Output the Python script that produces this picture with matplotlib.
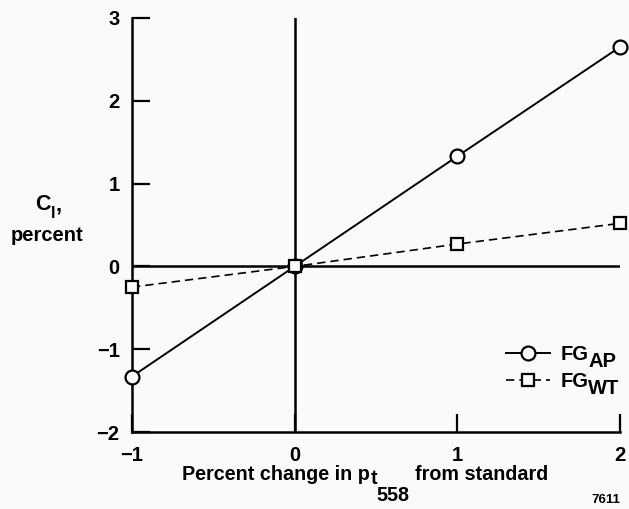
import matplotlib
matplotlib.use("Agg")
import matplotlib.pyplot as plt

pct_change = [-1, 0, 1, 2]
fg_ap = [-1.33, 0.0, 1.33, 2.65]
fg_wt = [-0.25, 0.0, 0.27, 0.52]
xticks = [-1, 0, 1, 2]
yticks = [-2, -1, 0, 1, 2, 3]
legend_main = ['FG', 'FG']
legend_sub = ['AP', 'WT']

plt.rcParams['font.family'] = ['Liberation Sans', 'DejaVu Sans']
plt.rcParams['font.weight'] = 'bold'

W, H = 629, 509
bg = '#fafafa'
fig = plt.figure(figsize=(W / 100, H / 100), dpi=100, facecolor=bg)
ax = fig.add_axes([132 / W, 1 - 432 / H, (620 - 132) / W, (432 - 18) / H], facecolor=bg)

ax.axhline(0, color='black', lw=1.8, zorder=1)
ax.axvline(0, color='black', lw=1.8, zorder=1)

l1, = ax.plot(pct_change, fg_ap, '-', color='black', lw=1.4, marker='o', ms=10,
              mfc=bg, mec='black', mew=1.6, zorder=3, clip_on=False)
l2, = ax.plot(pct_change, fg_wt, '--', color='black', lw=1.2, marker='s', ms=9,
              mfc=bg, mec='black', mew=1.6, dashes=(5, 3), zorder=3, clip_on=False)

ax.set_xlim(-1, 2)
ax.set_ylim(-2, 3)
ax.set_xticks(xticks)
ax.set_yticks(yticks)
ax.set_xticklabels([f'{t}'.replace('-', '\u2212') for t in xticks])
ax.set_yticklabels([f'{t}'.replace('-', '\u2212') for t in yticks])
ax.tick_params(axis='both', direction='in', length=13, width=1.6, labelsize=14.5)
ax.tick_params(axis='y', pad=9)
ax.tick_params(axis='x', pad=10)
for lab in ax.get_xticklabels() + ax.get_yticklabels():
    lab.set_fontweight('bold')

for s in ['top', 'right']:
    ax.spines[s].set_visible(False)
for s in ['left', 'bottom']:
    ax.spines[s].set_linewidth(1.8)

renderer = fig.canvas.get_renderer()


def put(s, x, y, size, ha='left'):
    t = fig.text(x / W, 1 - y / H, s, fontsize=size, fontweight='bold', ha=ha, va='baseline')
    return t.get_window_extent(renderer).x1


# x label pieces
x = put('Percent change in p', 182, 480, 14.2)
x = put('t', x + 1, 484, 14.2)
x = put('558', x - 1, 501, 14.2)
put('from standard', max(x + 5, 415), 480, 14.2)

# y label pieces
x = put('C', 35, 210, 15.5)
x = put('l', x, 218, 12)
put(',', x + 1, 210, 15.5)
put('percent', 47, 241, 14.5, ha='center')

put('7611', 606, 503, 9.5, ha='center')

leg = ax.legend([l1, l2], legend_main, loc='center left', bbox_to_anchor=(506 / W, 1 - 368 / H),
                bbox_transform=fig.transFigure, frameon=False, fontsize=14.5,
                handlelength=2.2, handletextpad=0.5, labelspacing=0.4,
                borderpad=0, borderaxespad=0)
for t in leg.get_texts():
    t.set_fontweight('bold')

fig.canvas.draw()
for t, sub in zip(leg.get_texts(), legend_sub):
    bb = t.get_window_extent(renderer)
    base_px = H - bb.y0 - 4  # approx baseline (from top)
    fig.text(bb.x1 / W, 1 - (base_px + 7) / H, sub, fontsize=14.5, fontweight='bold',
             ha='left', va='baseline')

fig.savefig('out.png', dpi=100, facecolor=bg)
